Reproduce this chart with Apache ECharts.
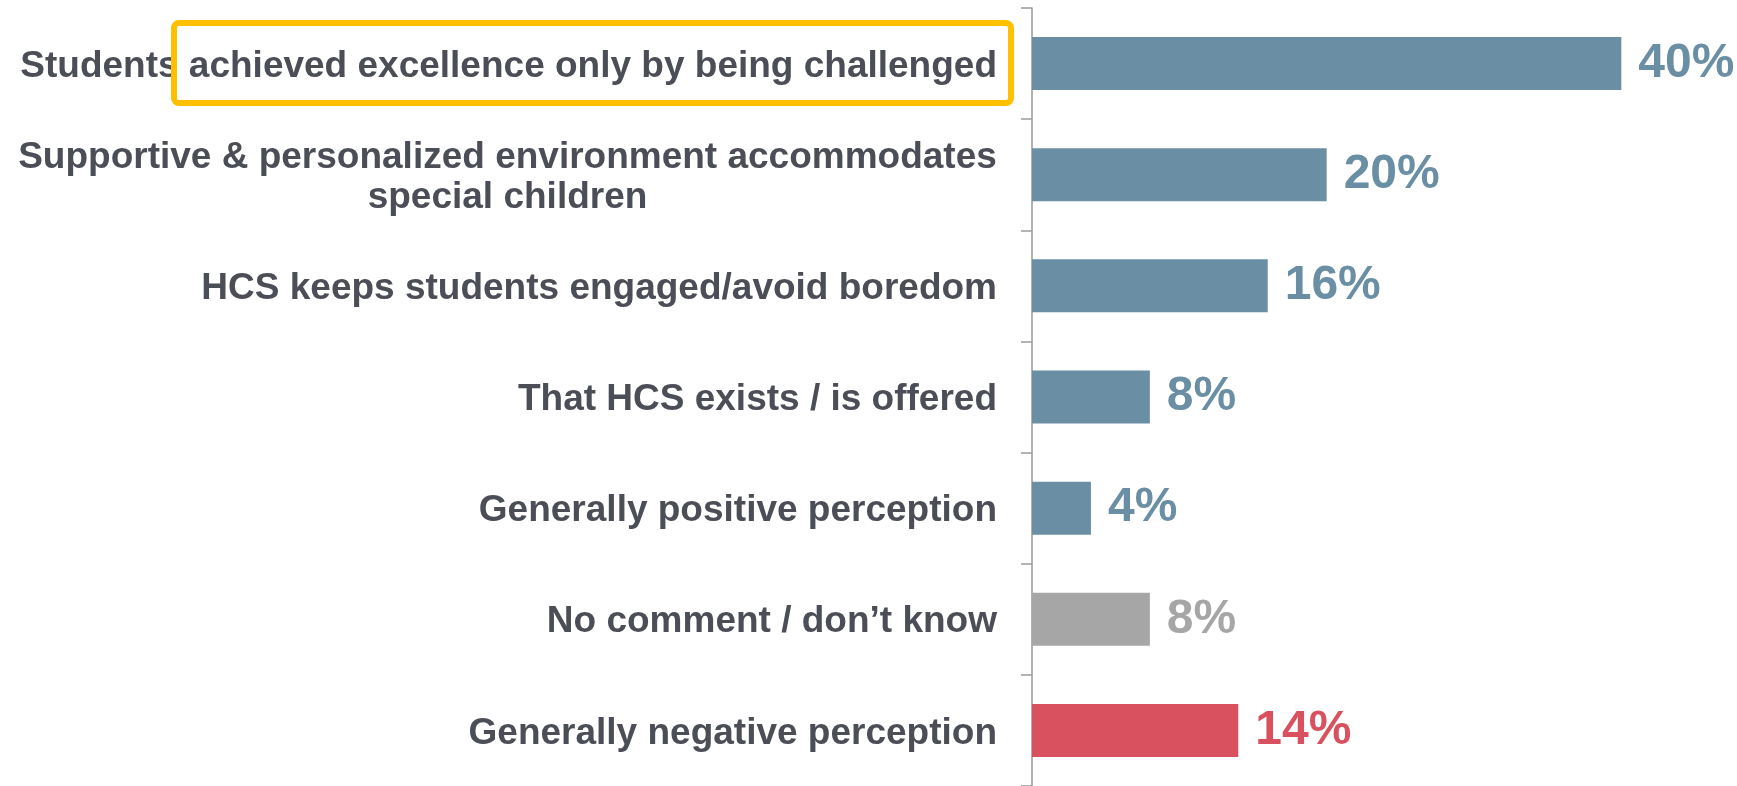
<!DOCTYPE html>
<html>
<head>
<meta charset="utf-8">
<script src="https://cdn.jsdelivr.net/npm/echarts@6/dist/echarts.min.js"></script>
<style>
  html, body { margin: 0; padding: 0; background: #fff; }
  #chart { width: 1737px; height: 786px; }
</style>
</head>
<body>
<div id="chart"></div>
<script>
// Survey responses, top to bottom
const categories = [
  'Students achieved excellence only by being challenged',
  'Supportive & personalized environment accommodates\nspecial children',
  'HCS keeps students engaged/avoid boredom',
  'That HCS exists / is offered',
  'Generally positive perception',
  'No comment / don\u2019t know',
  'Generally negative perception'
];
const values = [40, 20, 16, 8, 4, 8, 14];

const BLUE = '#6a8fa5';
const GREY = '#a6a6a6';
const RED = '#d9515e';
const barColors = [BLUE, BLUE, BLUE, BLUE, BLUE, GREY, RED];

const FONT = '"Liberation Sans", Arial, sans-serif';
const LABEL_SIZE = 37;
const LABEL_COLOR = '#4b4e56';

// Measure text so multi-line labels can be centred inside their block
const ctx = document.createElement('canvas').getContext('2d');
ctx.font = 'bold ' + LABEL_SIZE + 'px ' + FONT;
function lineWidth(s) { return Math.ceil(ctx.measureText(s).width); }
const widest = Math.max.apply(null, categories.map(function (c) {
  return Math.max.apply(null, c.split('\n').map(lineWidth));
}));

const chart = echarts.init(document.getElementById('chart'), null, { renderer: 'canvas' });

chart.setOption({
  animation: false,
  backgroundColor: '#ffffff',
  grid: { left: 1032, right: 42, top: 8, height: 780, containLabel: false },
  xAxis: {
    type: 'value',
    min: 0,
    max: 45,
    show: false
  },
  yAxis: {
    type: 'category',
    data: categories,
    inverse: true,
    axisLine: { show: true, lineStyle: { color: '#9a9a9a', width: 1.5 } },
    axisTick: { show: true, length: 11, lineStyle: { color: '#9a9a9a', width: 1.5 } },
    splitLine: { show: false },
    axisLabel: {
      margin: 35,
      color: LABEL_COLOR,
      fontFamily: FONT,
      fontWeight: 'bold',
      fontSize: LABEL_SIZE,
      lineHeight: 40,
      padding: [6, 0, 0, 0],
      formatter: function (v) {
        const lines = v.split('\n');
        if (lines.length === 1) return v;
        const w = Math.max.apply(null, lines.map(lineWidth));
        return lines.map(function (l) {
          return l === lines[0] ? '{c|' + l + '}' : '{c|' + l + '}';
        }).join('\n');
      },
      rich: {
        c: {
          color: LABEL_COLOR,
          fontFamily: FONT,
          fontWeight: 'bold',
          fontSize: LABEL_SIZE,
          lineHeight: 40,
          align: 'center',
          width: lineWidth('Supportive & personalized environment accommodates')
        }
      }
    }
  },
  series: [{
    type: 'bar',
    barWidth: 53,
    data: values.map(function (v, i) {
      return {
        value: v,
        itemStyle: { color: barColors[i] },
        label: { color: barColors[i] }
      };
    }),
    label: {
      show: true,
      position: 'right',
      distance: 17,
      fontFamily: FONT,
      fontWeight: 'bold',
      fontSize: 48,
      padding: [4, 0, 0, 0],
      formatter: '{c}%'
    }
  }],
  graphic: [{
    // Highlight around the key phrase of the first response
    type: 'rect',
    shape: { x: 174, y: 23, width: 837, height: 80, r: 5 },
    style: { fill: 'none', stroke: '#ffc000', lineWidth: 6 },
    z: 10
  }]
});
</script>
</body>
</html>
